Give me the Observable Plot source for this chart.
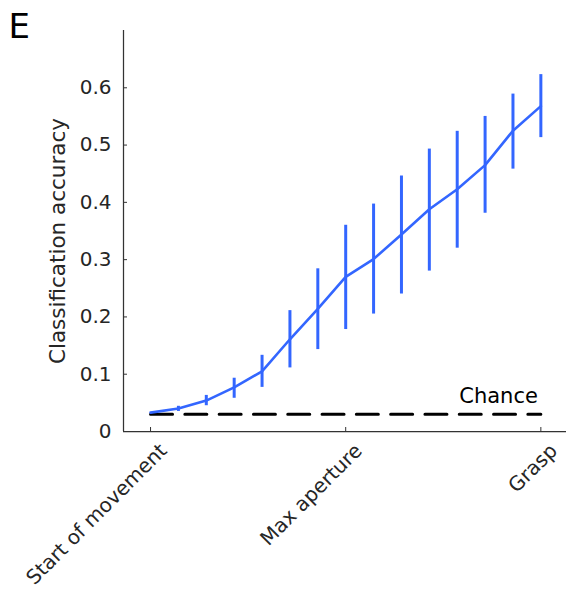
<!DOCTYPE html>
<html>
<head>
<meta charset="utf-8">
<script src="https://cdn.jsdelivr.net/npm/d3@7"></script>
<script src="https://cdn.jsdelivr.net/npm/@observablehq/plot@0.6"></script>
<style>
  html, body { margin: 0; padding: 0; background: #fff; }
  #chart { width: 566px; height: 593px; }
</style>
</head>
<body>
<div id="chart"></div>
<script>
const panelLetter = "E";
const yLabel = "Classification accuracy";
const timeIndex = [0, 1, 2, 3, 4, 5, 6, 7, 8, 9, 10, 11, 12, 13, 14];
const accuracy = [0.033, 0.040, 0.054, 0.077, 0.105, 0.161, 0.214, 0.270, 0.301, 0.344, 0.388, 0.423, 0.465, 0.525, 0.568];
const lower    = [0.033, 0.035, 0.045, 0.058, 0.077, 0.111, 0.143, 0.178, 0.205, 0.240, 0.280, 0.320, 0.381, 0.458, 0.513];
const upper    = [0.033, 0.044, 0.063, 0.093, 0.133, 0.211, 0.284, 0.360, 0.397, 0.446, 0.493, 0.524, 0.550, 0.589, 0.623];
const chanceLevel = 0.03;
const chanceLabel = "Chance";
const xTickPositions = [0, 7, 14];
const xTickLabels = ["Start of movement", "Max aperture", "Grasp"];
const yTicks = [0, 0.1, 0.2, 0.3, 0.4, 0.5, 0.6];
const xDomain = [-0.97, 14.92];
const yDomain = [0, 0.70];

const rows = timeIndex.map((t, i) => ({t, acc: accuracy[i], lo: lower[i], hi: upper[i]}));
const chanceRows = [timeIndex[0], timeIndex[timeIndex.length - 1]].map(t => ({t, y: chanceLevel}));

const blue = "#3366ff";
const axisColor = "#333333";
const textColor = "#262626";

const chart = Plot.plot({
  width: 566,
  height: 593,
  marginLeft: 123,
  marginRight: 0,
  marginTop: 30,
  marginBottom: 162,
  style: {fontFamily: "DejaVu Sans", fontSize: "20px", color: textColor, background: "#fff"},
  x: {domain: xDomain},
  y: {domain: yDomain},
  marks: [
    Plot.ruleX([xDomain[0]], {stroke: axisColor, strokeWidth: 1.25}),
    Plot.ruleY([yDomain[0]], {stroke: axisColor, strokeWidth: 1.25}),
    Plot.axisY({
      ticks: yTicks,
      tickSize: -4,
      tickPadding: 16,
      stroke: axisColor,
      fill: textColor,
      fontSize: 20,
      tickFormat: d => d === 0 ? "0" : d3.format(".1f")(d),
      label: null
    }),
    Plot.axisX({
      ticks: xTickPositions,
      tickSize: -4,
      stroke: axisColor,
      tickFormat: () => "",
      label: null
    }),
    Plot.axisX({
      ticks: xTickPositions,
      tickSize: 0,
      tickPadding: 0,
      fill: textColor,
      fontSize: 20,
      tickRotate: -45,
      dx: 13,
      dy: 16,
      tickFormat: d => xTickLabels[xTickPositions.indexOf(d)],
      label: null
    }),
    Plot.text([yLabel], {
      frameAnchor: "left",
      rotate: -90,
      textAnchor: "middle",
      dx: -65,
      dy: 10,
      fill: textColor,
      fontSize: 21.5
    }),
    Plot.text([panelLetter], {
      frameAnchor: "top-left",
      textAnchor: "start",
      lineAnchor: "top",
      dx: -115,
      dy: -17,
      fill: "#000",
      fontSize: 34
    }),
    Plot.line(chanceRows, {
      x: "t", y: "y",
      stroke: "#000",
      strokeWidth: 3,
      strokeDasharray: "22,12.3"
    }),
    Plot.text([{t: timeIndex[timeIndex.length - 1], y: chanceLevel, label: chanceLabel}], {
      x: "t", y: "y", text: "label",
      textAnchor: "end",
      dx: -3,
      dy: -18,
      fill: "#000",
      fontSize: 21
    }),
    Plot.ruleX(rows.filter(d => d.hi > d.lo), {
      x: "t", y1: "lo", y2: "hi",
      stroke: blue,
      strokeWidth: 3
    }),
    Plot.line(rows, {
      x: "t", y: "acc",
      stroke: blue,
      strokeWidth: 2.6
    })
  ]
});

document.getElementById("chart").appendChild(chart);
</script>
</body>
</html>
